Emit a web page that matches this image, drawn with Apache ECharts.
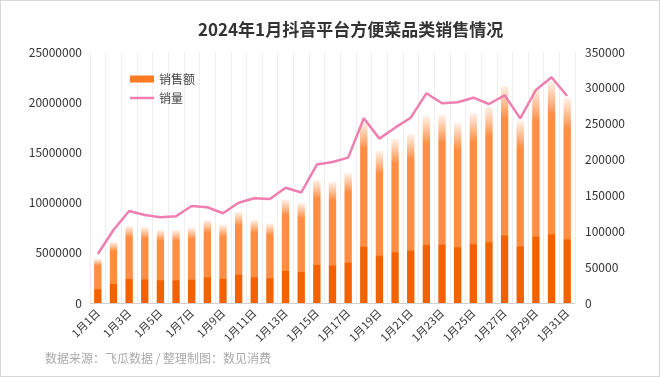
<!DOCTYPE html>
<html>
<head>
<meta charset="utf-8">
<script src="https://cdn.jsdelivr.net/npm/echarts@6/dist/echarts.min.js"></script>
<style>
  html, body { margin: 0; padding: 0; background: #fff; }
  #wrap { width: 660px; height: 377px; box-sizing: border-box; border: 1px solid #d8d8d8; position: relative; }
  #chart { position: absolute; left: -1px; top: -1px; width: 660px; height: 377px; }
</style>
</head>
<body>
<div id="wrap"><div id="chart"></div></div>
<script>
// 日期
const days = [
  '1月1日', '1月2日', '1月3日', '1月4日', '1月5日', '1月6日', '1月7日', '1月8日',
  '1月9日', '1月10日', '1月11日', '1月12日', '1月13日', '1月14日', '1月15日', '1月16日',
  '1月17日', '1月18日', '1月19日', '1月20日', '1月21日', '1月22日', '1月23日', '1月24日',
  '1月25日', '1月26日', '1月27日', '1月28日', '1月29日', '1月30日', '1月31日'
]

// 销售额（元）
const salesAmount = [
  4380000, 6080000, 7670000, 7570000, 7270000, 7270000, 7500000, 8240000,
  7770000, 9060000, 8270000, 7930000, 10290000, 9950000, 12220000, 12050000,
  12950000, 18060000, 15140000, 16330000, 16800000, 18630000, 18760000, 17930000,
  18890000, 19520000, 21640000, 18160000, 21350000, 22050000, 20420000
]

// 销量（件）
const salesVolume = [
  68300, 101800, 128300, 122700, 119500, 120900, 135300, 133500,
  125100, 139900, 146000, 145000, 160800, 154100, 193100, 196600,
  202700, 257500, 229200, 244500, 258400, 292400, 278500, 279900,
  286300, 277500, 289600, 257500, 297000, 314700, 288700
]

const font = '"Noto Sans CJK SC", "Noto Sans", sans-serif'

// 柱子渐变：顶部淡出，底部深橙
const barColor = new echarts.graphic.LinearGradient(0, 0, 0, 1, [
  { offset: 0, color: 'rgba(255,150,80,0.12)' },
  { offset: 0.15, color: '#FF8D42' },
  { offset: 0.685, color: '#FF8D42' },
  { offset: 0.695, color: '#F26200' },
  { offset: 1, color: '#F26200' }
])

const chart = echarts.init(document.getElementById('chart'))

chart.setOption({
  animation: false,
  textStyle: { fontFamily: font },
  title: {
    text: '2024年1月抖音平台方便菜品类销售情况',
    left: 193,
    top: 16,
    textStyle: { fontSize: 17, fontWeight: 'bold', color: '#333', fontFamily: font }
  },
  legend: {
    orient: 'vertical',
    left: 125,
    top: 68,
    itemWidth: 24,
    itemHeight: 7,
    itemGap: 7,
    textStyle: { fontSize: 12, color: '#444' },
    data: [
      { name: '销售额', icon: 'rect', itemStyle: { color: '#FF7A22' } },
      { name: '销量', icon: 'path://M0,0L24,0L24,2.5L0,2.5Z', itemStyle: { color: '#EF7FB0' } }
    ]
  },
  grid: { left: 90, right: 85, top: 52, bottom: 74 },
  xAxis: {
    type: 'category',
    data: days,
    axisTick: { show: false },
    axisLine: { lineStyle: { color: '#d0d0d0' } },
    axisLabel: { interval: 1, rotate: 45, fontSize: 11, color: '#333', margin: 8 },
    splitLine: { show: true, interval: 0, lineStyle: { color: '#eeeeee' } }
  },
  yAxis: [
    {
      type: 'value',
      min: 0,
      max: 25000000,
      interval: 5000000,
      axisLine: { show: false },
      axisTick: { show: false },
      splitLine: { show: false },
      axisLabel: { fontSize: 12, color: '#333', margin: 8, formatter: v => String(v) }
    },
    {
      type: 'value',
      min: 0,
      max: 350000,
      interval: 50000,
      axisLine: { show: false },
      axisTick: { show: false },
      splitLine: { show: false },
      axisLabel: { fontSize: 12, color: '#333', margin: 10, formatter: v => String(v) }
    }
  ],
  series: [
    {
      name: '销售额',
      type: 'bar',
      barWidth: '47%',
      itemStyle: { color: barColor },
      data: salesAmount
    },
    {
      name: '销量',
      type: 'line',
      yAxisIndex: 1,
      symbol: 'none',
      lineStyle: { color: '#EF7FB0', width: 2.5 },
      itemStyle: { color: '#EF7FB0' },
      data: salesVolume
    }
  ],
  graphic: [
    {
      type: 'text',
      left: 45,
      top: 352,
      style: { text: '数据来源：飞瓜数据 / 整理制图：数见消费', fontSize: 12, fill: '#aaaaaa', fontFamily: font }
    }
  ]
})
</script>
</body>
</html>
